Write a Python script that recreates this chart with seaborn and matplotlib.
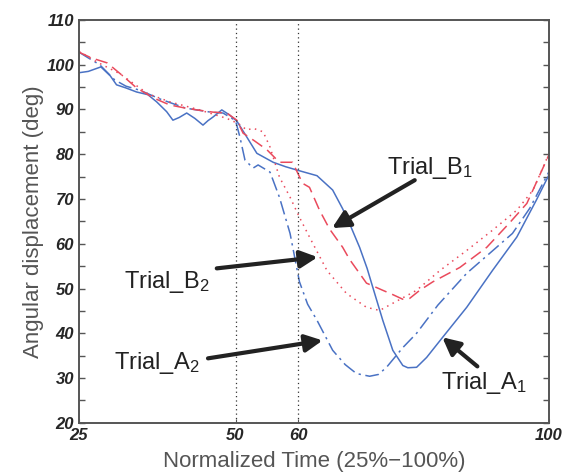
import matplotlib
matplotlib.use("Agg")
import matplotlib.pyplot as plt
import seaborn as sns

# --- data ---
a1_x = [25, 26.5, 28.5, 30, 31, 32.5, 34.2, 36, 37.4, 39, 40, 41, 42.2, 43.5, 44.8, 45.6,
        46.4, 47.8, 49, 50.2, 51.5, 53.4, 56, 58, 60.2, 63, 65.5, 67.1, 68.5, 69.8, 71,
        71.9, 73.5, 75.1, 76.7, 77.5, 78.9, 80.5, 83, 86.9, 91, 94.9, 98, 100]
a1_y = [98.2, 98.5, 99.5, 97.5, 95.5, 94.8, 93.9, 93.3, 91.7, 89.5, 87.6, 88.2, 89.2, 88,
        86.5, 87.5, 88.3, 89.9, 88.8, 87.4, 84.5, 80.2, 78.2, 77.2, 76.3, 75.2, 72, 67.8,
        63.5, 59.2, 54.5, 50.3, 42.9, 36.2, 32.8, 32.3, 32.4, 34.6, 39, 45.8, 54, 61.5,
        69.7, 75.3]

a2_x = [25, 26.5, 28.3, 30.7, 32.5, 34.7, 38, 42, 46, 48, 50, 50.7, 51.5, 52.8, 53.6, 55.5,
        57, 58.7, 60.2, 61.5, 63, 65.5, 67.5, 69.3, 71.4, 72.8, 74.1, 76.7, 78.9, 82.3,
        86.9, 90.6, 94.2, 97, 100]
a2_y = [102.8, 101.5, 100, 96.6, 95.2, 94.3, 92.3, 90.3, 89.4, 89.2, 87.5, 83.8, 78.7, 76.9,
        77.6, 76, 70.4, 62.3, 51.5, 46.5, 42.9, 36.2, 33, 31, 30.4, 30.8, 32.4, 36.8, 40,
        46.3, 53.4, 57.9, 62.3, 68, 76]

b1_x = [25, 27, 29.5, 32, 34.2, 37, 39.5, 42, 43.8, 46.4, 48.6, 50.2, 51.2, 53, 55, 57,
        59.1, 60.7, 61.8, 63.4, 65, 67.1, 68.2, 70.9, 73.5, 75, 76.7, 77.8, 79.4, 81.5,
        85.8, 90.1, 93.7, 96.5, 100]
b1_y = [102.8, 101.5, 100.4, 97.5, 94.8, 92.5, 91, 90.3, 89.9, 89.4, 89.2, 87.6, 84.7, 83,
        81, 78.2, 78.2, 73.5, 72.6, 67.5, 63.3, 59.2, 56.5, 51.2, 49.6, 48.7, 47.6, 47.8,
        49.6, 51.5, 54.7, 59.2, 64.6, 69, 79.8]

b2_x = [25, 28, 31.5, 33.6, 36, 39.5, 44, 48.6, 50.5, 51.8, 52.8, 54.4, 55.5, 57, 58.7,
        60.2, 61.8, 64.6, 67.7, 70.9, 73, 75.1, 78.9, 82.6, 86.9, 91, 94.9, 97.5, 100]
b2_y = [103, 100.5, 98, 95.9, 93.5, 91.7, 90, 88, 86.8, 85.4, 85.8, 85, 81.6, 74.9, 70.4,
        65.9, 61.5, 54, 48.9, 45.8, 45.1, 46.7, 49.6, 54, 58.5, 63, 67.5, 72, 80]

x_ticks = [25, 50, 60, 100]
marker_lines = [50, 60]

# annotations: label, text position, arrow tail, arrow tip
labels = ["Trial_B$_1$", "Trial_B$_2$", "Trial_A$_2$", "Trial_A$_1$"]
text_xy = [(81.0, 77.0), (39.0, 51.4), (37.4, 33.3), (89.6, 28.8)]
tail_xy = [(78.6, 74.2), (47.0, 54.5), (45.6, 34.4), (88.6, 32.6)]
tip_xy = [(65.4, 63.5), (63.1, 57.0), (63.9, 38.4), (83.0, 39.1)]

sns.set_style("ticks")
plt.rcParams["font.family"] = ["Liberation Sans", "DejaVu Sans"]
plt.rcParams["mathtext.fontset"] = "custom"
plt.rcParams["mathtext.rm"] = "Liberation Sans"
plt.rcParams["mathtext.it"] = "Liberation Sans:italic"

blue = "#4a72c4"
red = "#ea4a5c"

fig, ax = plt.subplots(figsize=(5.64, 4.74), dpi=100)
fig.subplots_adjust(left=0.140, right=0.973, top=0.958, bottom=0.108)

sns.lineplot(x=a1_x, y=a1_y, ax=ax, color=blue, lw=1.1, sort=False)
sns.lineplot(x=a2_x, y=a2_y, ax=ax, color=blue, lw=1.1, sort=False,
             linestyle=(0, (9, 3, 1.5, 3)))
sns.lineplot(x=b1_x, y=b1_y, ax=ax, color=red, lw=1.1, sort=False,
             linestyle=(0, (8, 4)))
sns.lineplot(x=b2_x, y=b2_y, ax=ax, color=red, lw=1.1, sort=False,
             linestyle=(0, (1, 3)))

for xv in marker_lines:
    ax.axvline(xv, color="#333333", lw=0.9, linestyle=(0, (1, 2.5)))

for lab, txy, sxy, pxy in zip(labels, text_xy, tail_xy, tip_xy):
    ax.text(txy[0], txy[1], lab, fontsize=17, color="#222222", ha="center", va="center")
    ax.annotate("", xy=pxy, xytext=sxy,
                arrowprops=dict(arrowstyle="-|>", lw=3, color="#222222",
                                mutation_scale=26, shrinkA=0, shrinkB=0))

ax.set_xlim(25, 100)
ax.set_ylim(20, 110)
ax.set_xticks(x_ticks)
ax.set_yticks(range(20, 111, 10))
ax.set_yticks(range(25, 110, 10), minor=True)
ax.tick_params(axis="y", which="both", direction="in", right=True, length=4,
               width=1, color="#555555")
ax.tick_params(axis="x", direction="in", length=3, color="#555555")
for lbl in ax.get_xticklabels() + ax.get_yticklabels():
    lbl.set_fontweight("bold")
    lbl.set_fontstyle("italic")
    lbl.set_fontsize(12)
for s in ax.spines.values():
    s.set_visible(True)
    s.set_color("#555555")
    s.set_linewidth(1.4)

ax.set_xlabel("Normalized Time (25%\u2212100%)", fontsize=16, color="#555555", labelpad=6)
ax.set_ylabel("Angular displacement (deg)", fontsize=16, color="#555555", labelpad=2)

fig.savefig("out.png", dpi=100)
